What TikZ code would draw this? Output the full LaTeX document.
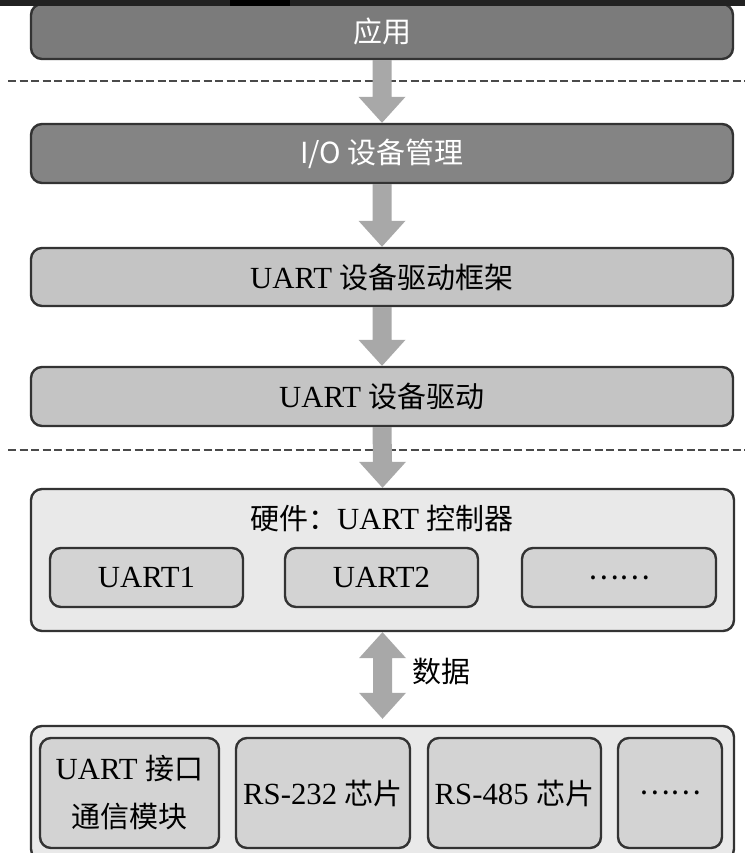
\documentclass[tikz,border=0pt]{standalone}
\usepackage{fontspec}
\setmainfont{Liberation Serif}[Scale=1.06]
\newfontfamily\cjk{Noto Sans CJK SC}
\usetikzlibrary{calc}
\definecolor{darkbox}{HTML}{7B7B7B}
\definecolor{darkboxb}{HTML}{848484}
\definecolor{midbox}{HTML}{C4C4C4}
\definecolor{lightbox}{HTML}{E9E9E9}
\definecolor{innerbox}{HTML}{D3D3D3}
\definecolor{arrowgray}{HTML}{A8A8A8}
\definecolor{edgecol}{HTML}{333333}
\definecolor{dashcol}{HTML}{4A4A4A}
\definecolor{topbar}{HTML}{222222}
\newcommand\CJ[1]{{\cjk #1}}
\newcommand\DOTS{{\cjk ……}}
\newcommand\downfat[2]{%
  \path (#1.south) coordinate (fa1) (#2.north) coordinate (fa2);
  \fill[arrowgray] ($(fa1)+(-9.5,0)$) -- ($(fa2)+(-9.5,-26)$) -- ($(fa2)+(-23.5,-26)$)
    -- (fa2) -- ($(fa2)+(23.5,-26)$) -- ($(fa2)+(9.5,-26)$) -- ($(fa1)+(9.5,0)$) -- cycle;}
\begin{document}
\begin{tikzpicture}[x=1pt,y=-1pt,
  box/.style={draw=edgecol, line width=2.4pt, rounded corners=11pt, inner sep=0pt, align=center},
  darkstyle/.style={box, fill=darkbox, text=white, font=\cjk\fontsize{29}{34}\selectfont},
  midstyle/.style={box, fill=midbox, font=\fontsize{29}{34}\selectfont},
  outerstyle/.style={box, fill=lightbox},
  innerstyle/.style={box, fill=innerbox, font=\fontsize{29}{48}\selectfont},
  plaintext/.style={inner sep=0pt, font=\fontsize{29}{34}\selectfont},
  dashline/.style={draw=dashcol, line width=2.8pt, dash pattern=on 8pt off 3.5pt}]
\useasboundingbox (0,0) rectangle (745,853);
\fill[white] (0,0) rectangle (745,853);

% dashed separators
\draw[dashline] (8,81) -- (745,81);
\draw[dashline] (8,450) -- (745,450);

% layers
\node[darkstyle, minimum width=702pt, minimum height=55pt] (app) at (382,31.5) {应用};
\node[darkstyle, fill=darkboxb, minimum width=702pt, minimum height=59pt] (io) at (382,153.5) {I/O 设备管理};
\node[midstyle, minimum width=702pt, minimum height=58pt] (fw) at (382,277) {UART \CJ{设备驱动框架}};
\node[midstyle, minimum width=702pt, minimum height=59pt] (drv) at (382,396.5) {UART \CJ{设备驱动}};

% hardware controller
\node[outerstyle, minimum width=703pt, minimum height=142pt] (hw) at (382.5,560) {};
\node[plaintext] (hwt) at (382,518) {\CJ{硬件：}UART \CJ{控制器}};
\node[innerstyle, minimum width=193pt, minimum height=59pt] (u1) at (146.5,577.5) {UART1};
\node[innerstyle, minimum width=193pt, minimum height=59pt] (u2) at (381.5,577.5) {UART2};
\node[innerstyle, minimum width=194pt, minimum height=59pt] (u3) at (619,577.5) {\DOTS};

% bottom devices
\node[outerstyle, minimum width=703pt, minimum height=134pt] (bot) at (382.5,793) {};
\node[innerstyle, minimum width=179pt, minimum height=110pt] (b1) at (129.5,793) {UART \CJ{接口}\\\CJ{通信模块}};
\node[innerstyle, minimum width=174pt, minimum height=110pt] (b2) at (323,793) {RS-232 \CJ{芯片}};
\node[innerstyle, minimum width=173pt, minimum height=110pt] (b3) at (514.5,793) {RS-485 \CJ{芯片}};
\node[innerstyle, minimum width=104pt, minimum height=110pt] (b4) at (670,793) {\DOTS};

% arrows
\downfat{app}{io}
\downfat{io}{fw}
\downfat{fw}{drv}
\downfat{drv}{hw}

% double data arrow
\path (hw.south) coordinate (da1) ($(bot.north)+(0,-6)$) coordinate (da2);
\fill[arrowgray] (da1) -- ($(da1)+(23.5,26)$) -- ($(da1)+(9.5,26)$) -- ($(da2)+(9.5,-26)$)
  -- ($(da2)+(23.5,-26)$) -- (da2) -- ($(da2)+(-23.5,-26)$) -- ($(da2)+(-9.5,-26)$)
  -- ($(da1)+(-9.5,26)$) -- ($(da1)+(-23.5,26)$) -- cycle;
\node[plaintext, font=\cjk\fontsize{29}{34}\selectfont] (data) at (441,672) {数据};

% top strip
\fill[topbar] (0,0) rectangle (745,6);
\fill[black] (230,0) rectangle (290,6);
\end{tikzpicture}
\end{document}
